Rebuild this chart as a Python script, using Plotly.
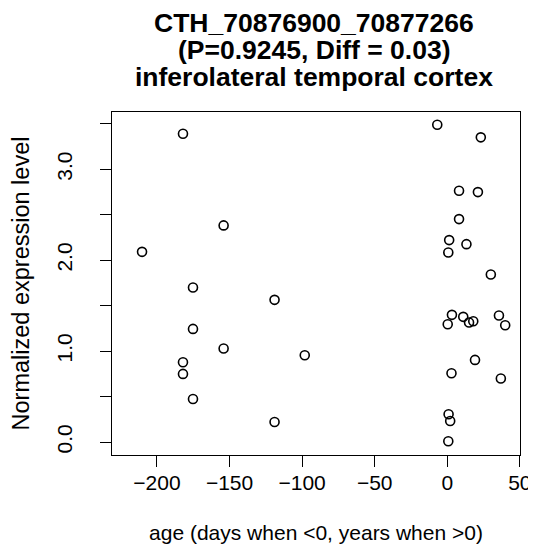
import plotly.graph_objects as go

# Data
age = [-182.1, -154.1, -210.3, -175.2, -119.0, -175.2, -154.1, -98.2, -182.1, -182.1,
       -175.2, -119.0,
       -6.9, 23.1, 8.1, 21.1, 8.1, 1.3, 13.2, 0.7, 30.0,
       3.2, 0.3, 11.0, 15.0, 17.9, 35.6, 39.9, 19.1, 2.9, 36.9,
       0.9, 2.0, 0.7]
expression = [3.39, 2.382, 2.091, 1.699, 1.563, 1.244, 1.028, 0.954, 0.877, 0.749,
              0.473, 0.220,
              3.489, 3.350, 2.763, 2.748, 2.451, 2.220, 2.176, 2.084, 1.842,
              1.398, 1.295, 1.376, 1.314, 1.328, 1.391, 1.284, 0.903, 0.756, 0.698,
              0.305, 0.231, 0.008]

x_ticks = [-200, -150, -100, -50, 0, 50]
x_tick_text = ["\u2212200", "\u2212150", "\u2212100", "\u221250", "0", "50"]
y_ticks = [0.0, 0.5, 1.0, 1.5, 2.0, 2.5, 3.0, 3.5]
y_tick_text = ["0.0", "", "1.0", "", "2.0", "", "3.0", ""]

title_lines = ["CTH_70876900_70877266", "(P=0.9245, Diff = 0.03)", "inferolateral temporal cortex"]

FONT = "Liberation Sans, Arial, Helvetica, sans-serif"

fig = go.Figure()
fig.add_trace(go.Scatter(
    x=age, y=expression, mode="markers",
    marker=dict(symbol="circle-open", size=9, color="black", line=dict(width=1.6, color="black")),
    showlegend=False, hoverinfo="x+y",
))

fig.update_layout(
    width=536, height=553,
    margin=dict(l=103, r=14, t=104, b=106),
    paper_bgcolor="white", plot_bgcolor="white",
    font=dict(family=FONT, color="black", size=21),
    xaxis=dict(
        range=[-231, 50.1], showgrid=False, zeroline=False,
        showline=True, mirror=True, linecolor="black", linewidth=1.3,
        ticks="outside", ticklen=11, tickwidth=1.3, tickcolor="black",
        tickvals=x_ticks, ticktext=x_tick_text,
        tickfont=dict(size=21), ticklabelstandoff=-2,
        title=dict(text="age (days when <0, years when >0)", font=dict(size=21), standoff=31),
    ),
    yaxis=dict(
        range=[-0.143, 3.629], showgrid=False, zeroline=False,
        showline=True, mirror=True, linecolor="black", linewidth=1.3,
        ticks="outside", ticklen=11, tickwidth=1.3, tickcolor="black",
        tickvals=y_ticks, ticktext=y_tick_text, tickangle=-90,
        tickfont=dict(size=21), ticklabelstandoff=19,
        title=dict(text="Normalized expression level", font=dict(size=23.5), standoff=17),
    ),
)

title_y = [1.2608, 1.1820, 1.1012]
for line, yy in zip(title_lines, title_y):
    fig.add_annotation(
        text="<b>" + line + "</b>", x=0.496, y=yy, xref="paper", yref="paper",
        xanchor="center", yanchor="middle", showarrow=False,
        font=dict(family=FONT, size=26.5, color="black"),
    )

fig.write_html("out.html")
